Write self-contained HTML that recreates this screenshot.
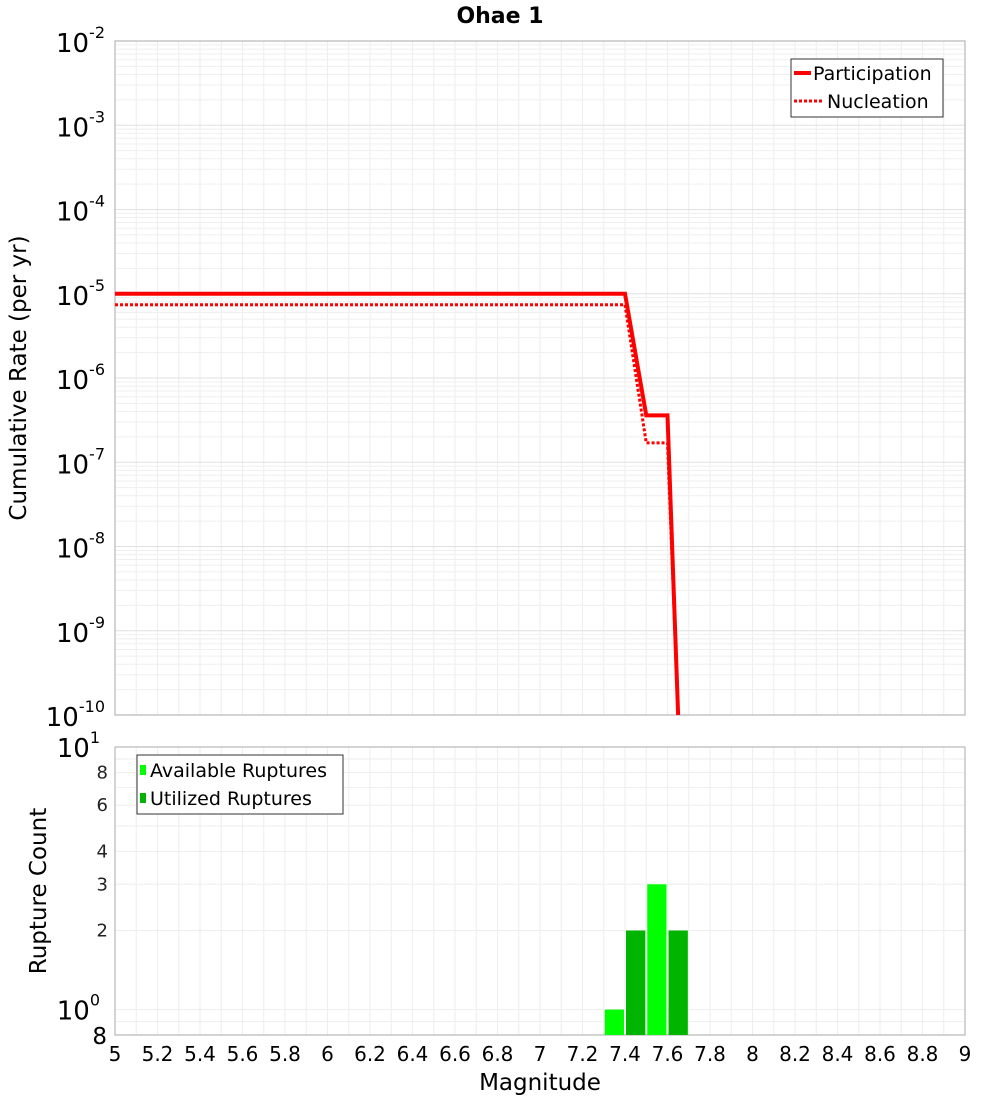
<!DOCTYPE html>
<html><head><meta charset="utf-8"><style>
body{margin:0;background:#fff;}
svg text{font-family:"DejaVu Sans","Liberation Sans",sans-serif;}
</style></head><body>
<svg id="c" width="1000" height="1100" xmlns="http://www.w3.org/2000/svg"></svg>
<script>
const xTicks=[5,5.2,5.4,5.6,5.8,6,6.2,6.4,6.6,6.8,7,7.2,7.4,7.6,7.8,8,8.2,8.4,8.6,8.8,9];
const topDecades=[-2,-3,-4,-5,-6,-7,-8,-9,-10];
const partX=[5,7.4,7.5,7.6,7.65];
const partY=[1e-5,1e-5,3.6e-7,3.6e-7,1e-10];
const nuclX=[5,7.4,7.5,7.6,7.65];
const nuclY=[7.4e-6,7.4e-6,1.7e-7,1.7e-7,1e-10];
const binCenters=[7.35,7.45,7.55,7.65];
const available=[1,2,3,2];
const utilized=[0,2,0,2];
const botTicks=[2,3,4,6,8];

const S=document.getElementById('c');const NS='http://www.w3.org/2000/svg';
function el(t,a,p){const e=document.createElementNS(NS,t);for(const k in a)e.setAttribute(k,a[k]);(p||S).appendChild(e);return e;}
const L=115,R=965,T1=41,B1=715,T2=747,B2=1035;
const X=v=>L+(v-5)/4*(R-L);
const Y1=v=>T1+(-2-Math.log10(v))/8*(B1-T1);
const bMin=Math.log10(0.8),bMax=1;
const Y2=v=>B2-(Math.log10(v)-bMin)/(bMax-bMin)*(B2-T2);

const g=el('g',{});
for(let v=5.1;v<9;v+=0.1){el('line',{x1:X(v),x2:X(v),y1:T1,y2:B1,stroke:'#eee'},g);el('line',{x1:X(v),x2:X(v),y1:T2,y2:B2,stroke:'#eee'},g);}
for(let d=-10;d<-2;d++)for(let m=1;m<10;m++){const y=Y1(m*Math.pow(10,d));el('line',{x1:L,x2:R,y1:y,y2:y,stroke:m==1?'#e0e0e0':'#efefef'},g);}
[0.9,1,2,3,4,5,6,7,8,9].forEach(v=>{const y=Y2(v);el('line',{x1:L,x2:R,y1:y,y2:y,stroke:'#eee'},g);});

const f1=el('rect',{x:L,y:T1,width:R-L,height:B1-T1,fill:'none',stroke:'#aaa'});
const f2=el('rect',{x:L,y:T2,width:R-L,height:B2-T2,fill:'none',stroke:'#aaa'});

const tt=el('text',{x:500,y:23,'font-size':22,'font-weight':'bold','text-anchor':'middle'});tt.textContent='Ohae 1';

topDecades.forEach(d=>{const y=Y1(Math.pow(10,d));const t=el('text',{x:105,y:y+11,'font-size':26,'text-anchor':'end'});
t.innerHTML='10<tspan dy="-14" font-size="16">'+d+'</tspan>';});
const yt1=el('text',{x:26,y:378,'font-size':23,'text-anchor':'middle',transform:'rotate(-90 26 378)'});yt1.textContent='Cumulative Rate (per yr)';

function line(xs,ys,dash,name){const p=xs.map((x,i)=>X(x)+','+Y1(ys[i])).join(' ');const e=el('polyline',{points:p,fill:'none',stroke:'#f00','stroke-width':dash?3:4});if(dash)e.setAttribute('stroke-dasharray','3,2');}
line(nuclX,nuclY,true,'nucleation-line');
line(partX,partY,false,'participation-line');

const lg=el('g',{});
el('rect',{x:791,y:59,width:152,height:58,fill:'#fff',stroke:'#333'},lg);
el('line',{x1:794,x2:811,y1:73,y2:73,stroke:'#f00','stroke-width':4},lg);
el('line',{x1:794,x2:822,y1:101,y2:101,stroke:'#f00','stroke-width':3,'stroke-dasharray':'3,2'},lg);
let t=el('text',{x:813,y:80,'font-size':19},lg);t.textContent='Participation';
t=el('text',{x:827,y:108,'font-size':19},lg);t.textContent='Nucleation';

const bw=X(0.1+5)-X(5);
binCenters.forEach((c,i)=>{
 if(available[i]>0){const r=el('rect',{x:X(c)-bw/2+1,y:Y2(available[i]),width:bw-2,height:B2-Y2(available[i]),fill:'#00ff00'});}
 if(utilized[i]>0){const r=el('rect',{x:X(c)-bw/2+1,y:Y2(utilized[i]),width:bw-2,height:B2-Y2(utilized[i]),fill:'#00b400'});}
});

botTicks.forEach(v=>{const t=el('text',{x:108,y:Y2(v)+6,'font-size':18,'text-anchor':'end',fill:'#222'});t.textContent=v;});
[[1,'1'],[0,'0']].forEach(([d,s])=>{const t=el('text',{x:100,y:Y2(Math.pow(10,d))+10,'font-size':26,'text-anchor':'end'});t.innerHTML='10<tspan dy="-14" font-size="16">'+s+'</tspan>';});
t=el('text',{x:107,y:1044,'font-size':23,'text-anchor':'end'});t.textContent='8';
const yt2=el('text',{x:46,y:891,'font-size':23,'text-anchor':'middle',transform:'rotate(-90 46 891)'});yt2.textContent='Rupture Count';

const lg2=el('g',{});
el('rect',{x:137,y:755,width:206,height:59,fill:'#fff',stroke:'#333'},lg2);
el('rect',{x:140,y:765,width:6,height:10,fill:'#00ff00'},lg2);
el('rect',{x:140,y:793,width:6,height:10,fill:'#00b400'},lg2);
t=el('text',{x:150,y:777,'font-size':19},lg2);t.textContent='Available Ruptures';
t=el('text',{x:150,y:805,'font-size':19},lg2);t.textContent='Utilized Ruptures';

xTicks.forEach(v=>{const t=el('text',{x:X(v),y:1061,'font-size':20,'text-anchor':'middle'});t.textContent=String(v);});
const xt=el('text',{x:540,y:1090,'font-size':23,'text-anchor':'middle'});xt.textContent='Magnitude';
</script>
</body></html>
